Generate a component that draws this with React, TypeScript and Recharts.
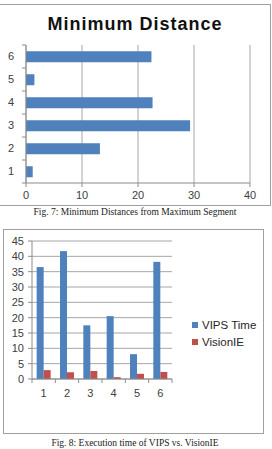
import {
  Bar,
  BarChart,
  CartesianGrid,
  Legend,
  XAxis,
  YAxis,
} from "recharts";

// Fig. 7 – minimum distance per segment
const segments = ["1", "2", "3", "4", "5", "6"];
const minDistance = [1.2, 13.2, 29.3, 22.6, 1.5, 22.4];
const distanceTicks = [0, 10, 20, 30, 40];

// Fig. 8 – execution time per page
const pages = ["1", "2", "3", "4", "5", "6"];
const vipsTime = [36.5, 41.7, 17.5, 20.5, 8.1, 38.2];
const visionIeTime = [2.9, 2.2, 2.6, 0.6, 1.7, 2.3];
const timeTicks = [0, 5, 10, 15, 20, 25, 30, 35, 40, 45];

const distanceData = segments.map((seg, i) => ({ seg, dist: minDistance[i] }));
const timeData = pages.map((page, i) => ({
  page,
  vips: vipsTime[i],
  visionie: visionIeTime[i],
}));

const BLUE = "#4F81BD";
const RED = "#C0504D";
const AXIS = "#8c8c8c";
const GRID = "#a6a6a6";
const LABEL = "#404040";
const tickFont = { fontSize: 11, fill: LABEL, fontFamily: "Liberation Sans" };

// Excel-style category ticks: the tick mark sits on the band edge, not the label
const leftBandTick =
  (band: number) =>
  ({ x, y, payload, index }: any) => (
    <g>
      <text x={x - 4} y={y} dy="0.35em" textAnchor="end" {...tickFont}>
        {payload.value}
      </text>
      <line x1={x + 4} x2={x + 8} y1={y - band / 2} y2={y - band / 2} stroke={AXIS} />
      {index === 0 && (
        <line x1={x + 4} x2={x + 8} y1={y + band / 2} y2={y + band / 2} stroke={AXIS} />
      )}
    </g>
  );

const bottomBandTick =
  (band: number, count: number) =>
  ({ x, y, payload, index }: any) => (
    <g>
      <text x={x} y={y + 2} dy="0.71em" textAnchor="middle" {...tickFont}>
        {payload.value}
      </text>
      <line x1={x - band / 2} x2={x - band / 2} y1={y - 8} y2={y - 4} stroke={AXIS} />
      {index === count - 1 && (
        <line x1={x + band / 2} x2={x + band / 2} y1={y - 8} y2={y - 4} stroke={AXIS} />
      )}
    </g>
  );

const TimeLegend = () => (
  <div style={{ fontFamily: "Liberation Sans", fontSize: 11.5, color: "#262626" }}>
    {[
      { name: "VIPS Time", color: BLUE },
      { name: "VisionIE", color: RED },
    ].map((item) => (
      <div key={item.name} style={{ display: "flex", alignItems: "center", height: 17 }}>
        <span
          style={{
            display: "inline-block",
            width: 6,
            height: 6,
            background: item.color,
            marginRight: 4,
          }}
        />
        {item.name}
      </div>
    ))}
  </div>
);

const caption: React.CSSProperties = {
  position: "absolute",
  left: 0,
  width: 270,
  textAlign: "center",
  fontFamily: "Liberation Serif",
  fontSize: 9.5,
  color: "#222",
  whiteSpace: "nowrap",
};

export default function App() {
  return (
    <div
      style={{
        position: "absolute",
        left: 0,
        top: 0,
        width: 272,
        height: 449,
        background: "#fff",
        overflow: "hidden",
      }}
    >
      {/* Minimum Distance */}
      <div
        style={{
          position: "absolute",
          left: -4,
          top: 4,
          width: 273,
          height: 200,
          border: "1.5px solid #a0a0a0",
        }}
      />
      <div
        style={{
          position: "absolute",
          left: 0,
          top: 14,
          width: 270,
          textAlign: "center",
          fontFamily: "Liberation Sans",
          fontWeight: "bold",
          fontSize: 18,
          letterSpacing: 1,
          color: "#111",
        }}
      >
        Minimum Distance
      </div>
      <div style={{ position: "absolute", left: 0, top: 0 }}>
        <BarChart
          layout="vertical"
          width={272}
          height={205}
          data={distanceData}
          margin={{ top: 45, right: 22, bottom: 2, left: 0 }}
          barCategoryGap="27%"
        >
          <CartesianGrid horizontal={false} stroke={GRID} />
          <XAxis
            type="number"
            domain={[0, 40]}
            ticks={distanceTicks}
            height={20}
            stroke={AXIS}
            tickSize={4}
            tickMargin={4}
            tick={tickFont}
          />
          <YAxis
            type="category"
            dataKey="seg"
            reversed
            width={26}
            stroke={AXIS}
            tickLine={false}
            tick={leftBandTick(23)}
            interval={0}
          />
          <Bar dataKey="dist" fill={BLUE} isAnimationActive={false} />
        </BarChart>
      </div>
      <div style={{ ...caption, top: 207 }}>
        Fig. 7: Minimum Distances from Maximum Segment
      </div>

      {/* Execution time */}
      <div
        style={{
          position: "absolute",
          left: 3,
          top: 229,
          width: 259,
          height: 203,
          border: "1.5px solid #a0a0a0",
        }}
      />
      <div style={{ position: "absolute", left: 0, top: 225 }}>
        <BarChart
          width={272}
          height={224}
          data={timeData}
          margin={{ top: 16, right: 100, bottom: 16, left: 0 }}
          barCategoryGap="20%"
          barGap={0}
        >
          <CartesianGrid vertical={false} stroke={GRID} />
          <XAxis
            dataKey="page"
            height={20}
            stroke={AXIS}
            tickLine={false}
            tick={bottomBandTick(140 / 6, pages.length)}
            interval={0}
          />
          <YAxis
            type="number"
            domain={[0, 45]}
            ticks={timeTicks}
            width={32}
            stroke={AXIS}
            tickSize={4}
            tickMargin={4}
            tick={tickFont}
            interval={0}
          />
          <Bar dataKey="vips" name="VIPS Time" fill={BLUE} isAnimationActive={false} />
          <Bar dataKey="visionie" name="VisionIE" fill={RED} isAnimationActive={false} />
          <Legend
            content={TimeLegend}
            wrapperStyle={{ left: 192, top: 91, width: 80 }}
          />
        </BarChart>
      </div>
      <div style={{ ...caption, top: 438 }}>
        Fig. 8: Execution time of VIPS vs. VisionIE
      </div>
    </div>
  );
}
